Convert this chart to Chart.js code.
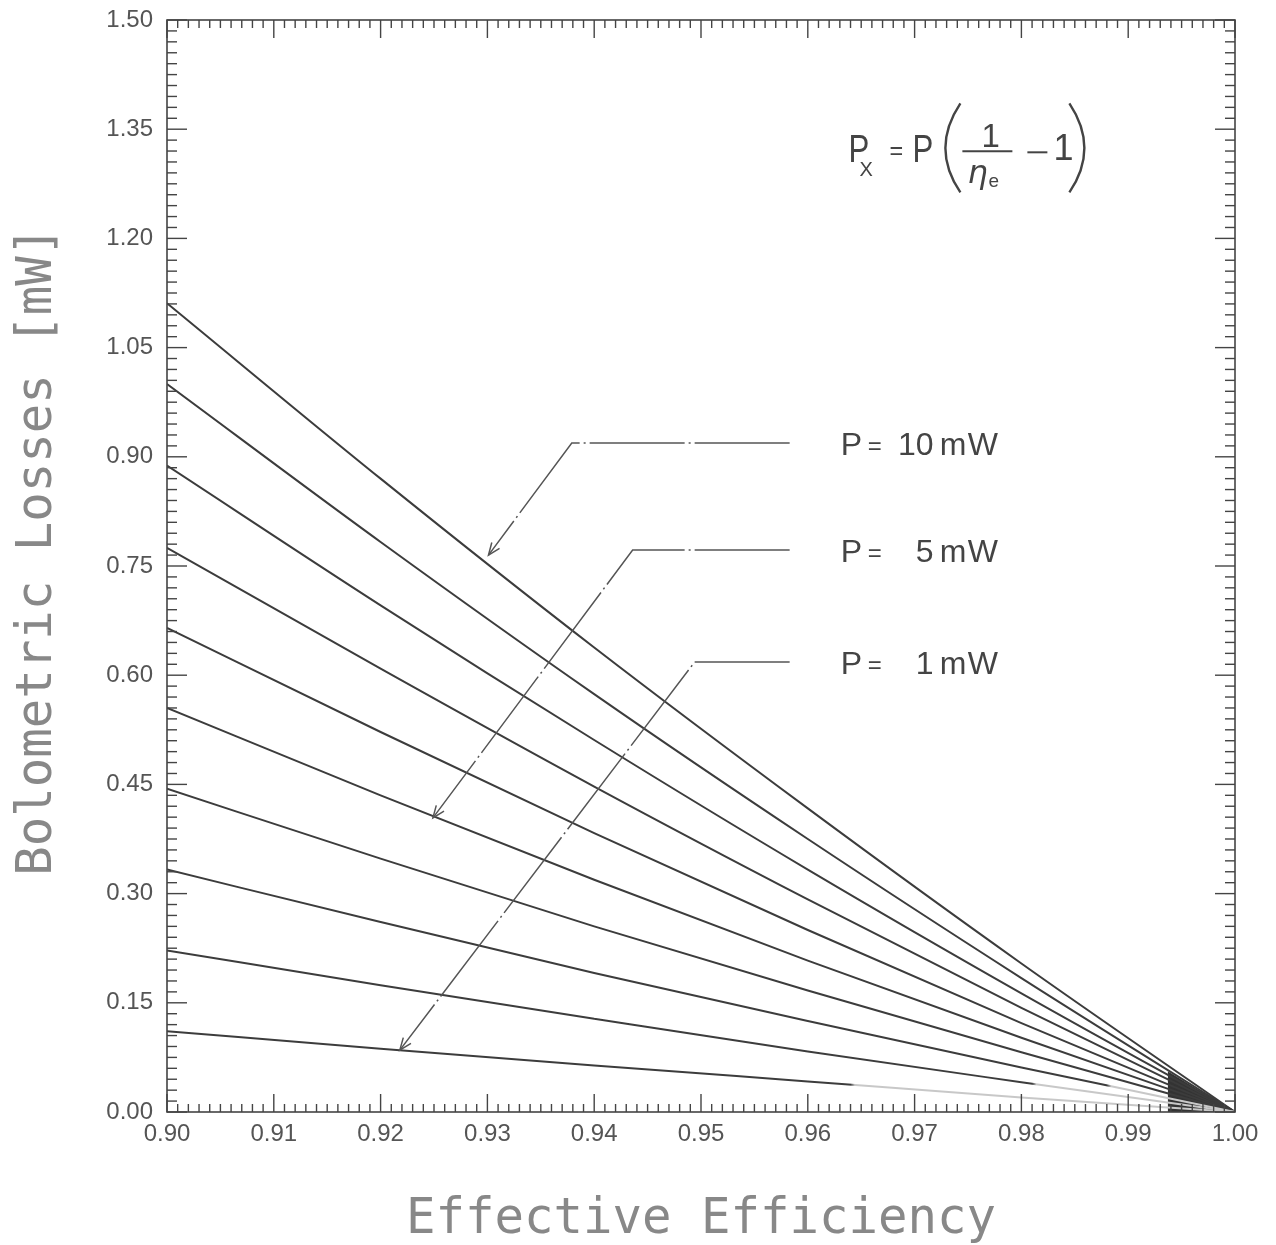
<!doctype html>
<html lang="en">
<head>
<meta charset="utf-8">
<title>Bolometric Losses vs Effective Efficiency</title>
<style>
  *{box-sizing:border-box;margin:0;padding:0}
  html,body{background:#fff}
  canvas{display:block}
</style>
</head>
<body>
<canvas id="chart" width="1276" height="1245"></canvas>

<script src="https://cdn.jsdelivr.net/npm/chart.js"></script>
<script>
// efficiency points along the x axis
const efficiency = [0.90, 0.92, 0.94, 0.96, 0.98, 1.00];

// bolometric losses in mW, one curve per optical power
const lossP1  = [0.111, 0.087, 0.064, 0.042, 0.020, 0];
const lossP2  = [0.222, 0.174, 0.128, 0.083, 0.041, 0];
const lossP3  = [0.333, 0.261, 0.191, 0.125, 0.061, 0];
const lossP4  = [0.444, 0.348, 0.255, 0.167, 0.082, 0];
const lossP5  = [0.555, 0.435, 0.319, 0.208, 0.102, 0];
const lossP6  = [0.665, 0.522, 0.383, 0.250, 0.122, 0];
const lossP7  = [0.775, 0.609, 0.447, 0.292, 0.143, 0];
const lossP8  = [0.888, 0.696, 0.511, 0.333, 0.163, 0];
const lossP9  = [1.000, 0.783, 0.574, 0.375, 0.184, 0];
const lossP10 = [1.111, 0.870, 0.638, 0.417, 0.204, 0];
const powerLabels = ['1 mW','2 mW','3 mW','4 mW','5 mW','6 mW','7 mW','8 mW','9 mW','10 mW'];

// dark wedge where the curves merge near 1.00
const wedgeEff  = [0.9937, 1.00];
const wedgeLoss = [0.056, 0];

// leader annotations (data units)
const leaderText  = ['10', '5', '1'];
const leaderY     = [0.919, 0.772, 0.618];
const leaderBendX = [0.9379, 0.9436, 0.9494];
const leaderEndX  = 0.9583;
const leaderTipX  = [0.9301, 0.9249, 0.9218];
const leaderTipY  = [0.765, 0.404, 0.085];

const INK = '#444';
const curves = [lossP1,lossP2,lossP3,lossP4,lossP5,lossP6,lossP7,lossP8,lossP9,lossP10];
// where the faint photocopy makes the lowest curves fade out (x value)
const fadeAt = [0.964, 0.981, 0.988];

function lineColor(i){
  return ctx => {
    const {chart} = ctx, a = chart.chartArea;
    if(!a || i >= fadeAt.length) return '#3c3c3c';
    const xs = chart.scales.x, f = (xs.getPixelForValue(fadeAt[i]) - a.left) / (a.right - a.left);
    const g = chart.ctx.createLinearGradient(a.left, 0, a.right, 0);
    g.addColorStop(0, '#3c3c3c'); g.addColorStop(f, '#3c3c3c');
    g.addColorStop(Math.min(1, f + 0.004), '#c8c8c8'); g.addColorStop(1, '#c8c8c8');
    return g;
  };
}

const datasets = curves.map((arr,i)=>({
  label: powerLabels[i],
  data: efficiency.map((e,j)=>({x:e, y:arr[j]})),
  showLine:true, borderColor:lineColor(i), borderWidth:2,
  pointRadius:0, cubicInterpolationMode:'monotone', fill:false
}));
datasets.push({
  label:'wedge',
  data: wedgeEff.map((e,j)=>({x:e, y:wedgeLoss[j]})),
  showLine:true, borderWidth:0, borderColor:'#333', backgroundColor:'#333',
  pointRadius:0, fill:'origin'
});

function seg(ctx,x1,y1,x2,y2){ctx.beginPath();ctx.moveTo(x1,y1);ctx.lineTo(x2,y2);ctx.stroke();}

// frame with inward ticks on all four sides
const frame = { id:'frame', afterDatasetsDraw(c){
  const {ctx, chartArea:a, scales:{x,y}} = c;
  ctx.save();
  ctx.strokeStyle = INK; ctx.lineWidth = 1.6;
  ctx.strokeRect(a.left, a.top, a.right-a.left, a.bottom-a.top);
  ctx.lineWidth = 1.4;
  for(let i=0;i<=100;i++){
    const px = x.getPixelForValue(0.9 + i*0.001), len = i%10===0 ? 18 : 8;
    seg(ctx,px,a.bottom,px,a.bottom-len); seg(ctx,px,a.top,px,a.top+len);
  }
  for(let i=0;i<=100;i++){
    const py = y.getPixelForValue(i*0.015), len = i%10===0 ? 20 : 10;
    seg(ctx,a.left,py,a.left+len,py); seg(ctx,a.right,py,a.right-len,py);
  }
  ctx.restore();
}};

// leader lines with arrowheads and the P = .. labels
const leaders = { id:'leaders', afterDatasetsDraw(c){
  const {ctx, scales:{x,y}} = c;
  ctx.save();
  ctx.strokeStyle = '#555'; ctx.lineWidth = 1.5;
  leaderText.forEach((t,i)=>{
    const ly = y.getPixelForValue(leaderY[i]);
    const bx = x.getPixelForValue(leaderBendX[i]), ex = x.getPixelForValue(leaderEndX);
    const tx = x.getPixelForValue(leaderTipX[i]), ty = y.getPixelForValue(leaderTipY[i]);
    ctx.setLineDash([95,4,2,4]);
    ctx.beginPath(); ctx.moveTo(ex,ly); ctx.lineTo(bx,ly); ctx.lineTo(tx,ty); ctx.stroke();
    ctx.setLineDash([]);
    // open arrowhead
    const ang = Math.atan2(ty-ly, tx-bx), L = 13, w = 0.38;
    ctx.beginPath();
    ctx.moveTo(tx - L*Math.cos(ang-w), ty - L*Math.sin(ang-w)); ctx.lineTo(tx,ty);
    ctx.lineTo(tx - L*Math.cos(ang+w), ty - L*Math.sin(ang+w));
    ctx.stroke();
    // label
    const base = ly + 12;
    ctx.fillStyle = INK; ctx.textBaseline = 'alphabetic';
    ctx.font = '32px "Liberation Sans", Arial, sans-serif';
    ctx.textAlign = 'left'; ctx.fillText('P', ex+51, base);
    ctx.font = '24px "Liberation Sans", Arial, sans-serif';
    ctx.fillText('=', ex+78, base-1);
    ctx.font = '32px "Liberation Sans", Arial, sans-serif';
    ctx.textAlign = 'right'; ctx.fillText(t, ex+144, base);
    ctx.textAlign = 'left'; ctx.fillText('m', ex+150, base); ctx.fillText('W', ex+178, base);
  });
  ctx.restore();
}};

// the formula P_x = P (1/eta_e - 1)
const formula = { id:'formula', afterDatasetsDraw(c){
  const {ctx, scales:{x,y}} = c;
  const fx = x.getPixelForValue(0.9638), fy = y.getPixelForValue(1.321);
  ctx.save();
  ctx.fillStyle = INK; ctx.strokeStyle = INK; ctx.textAlign = 'left'; ctx.textBaseline = 'alphabetic';
  const txt = (s,dx,dy,font,sx=1)=>{ctx.save();ctx.translate(fx+dx,fy+dy);ctx.scale(sx,1);ctx.font=font;ctx.fillText(s,0,0);ctx.restore();};
  const F = '"Liberation Sans", Arial, sans-serif';
  txt('P', 0, 12, '39px '+F, 0.8);
  txt('X', 11, 26, '20px '+F);
  txt('=', 41, 9, '26px '+F, 0.9);
  txt('P', 64, 12, '39px '+F, 0.8);
  ctx.lineWidth = 2.4;
  ctx.beginPath(); ctx.moveTo(fx+112,fy-47); ctx.quadraticCurveTo(fx+82,fy-2,fx+112,fy+42); ctx.stroke();
  ctx.beginPath(); ctx.moveTo(fx+221,fy-47); ctx.quadraticCurveTo(fx+251,fy-2,fx+221,fy+42); ctx.stroke();
  txt('1', 133, -3, '33px '+F);
  ctx.lineWidth = 2; seg(ctx, fx+114, fy+1, fx+164, fy+1);
  txt('\u03B7', 119, 33, 'italic 32px "DejaVu Sans", sans-serif');
  txt('e', 140, 37, '19px '+F);
  seg(ctx, fx+179, fy+2, fx+199, fy+2);
  txt('1', 205, 10, '36px '+F);
  ctx.restore();
}};

new Chart(document.getElementById('chart'), {
  type:'scatter',
  data:{ datasets },
  plugins:[frame, leaders, formula],
  options:{
    responsive:false, animation:false,
    layout:{ padding:{ top:20, right:41, left:0, bottom:0 } },
    plugins:{ legend:{display:false}, tooltip:{enabled:false} },
    scales:{
      x:{
        type:'linear', min:0.9, max:1.0,
        afterFit(s){ s.height = 133; s.paddingLeft = 0; s.paddingRight = 0; },
        grid:{display:false, drawTicks:false}, border:{display:false},
        ticks:{ stepSize:0.01, padding:8, color:'#555',
          font:{family:'"Liberation Sans", Arial, sans-serif', size:24},
          callback:v=>Number(v).toFixed(2) },
        title:{ display:true, text:'Effective Efficiency', color:'#888',
          font:{family:'"DejaVu Sans Mono", monospace', size:49, lineHeight:1.1},
          padding:{top:0, bottom:-2} }
      },
      y:{
        type:'linear', min:0, max:1.5,
        afterFit(s){ s.width = 167; s.paddingTop = 0; s.paddingBottom = 0; },
        grid:{display:false, drawTicks:false}, border:{display:false},
        ticks:{ stepSize:0.15, padding:14, color:'#555',
          font:{family:'"Liberation Sans", Arial, sans-serif', size:24},
          callback:v=>Number(v).toFixed(2) },
        title:{ display:true, text:'\u00A0Bolometric Losses [mW]', color:'#888',
          font:{family:'"DejaVu Sans Mono", monospace', size:49, lineHeight:1.1},
          padding:{top:11, bottom:0} }
      }
    }
  }
});
</script>
</body>
</html>
